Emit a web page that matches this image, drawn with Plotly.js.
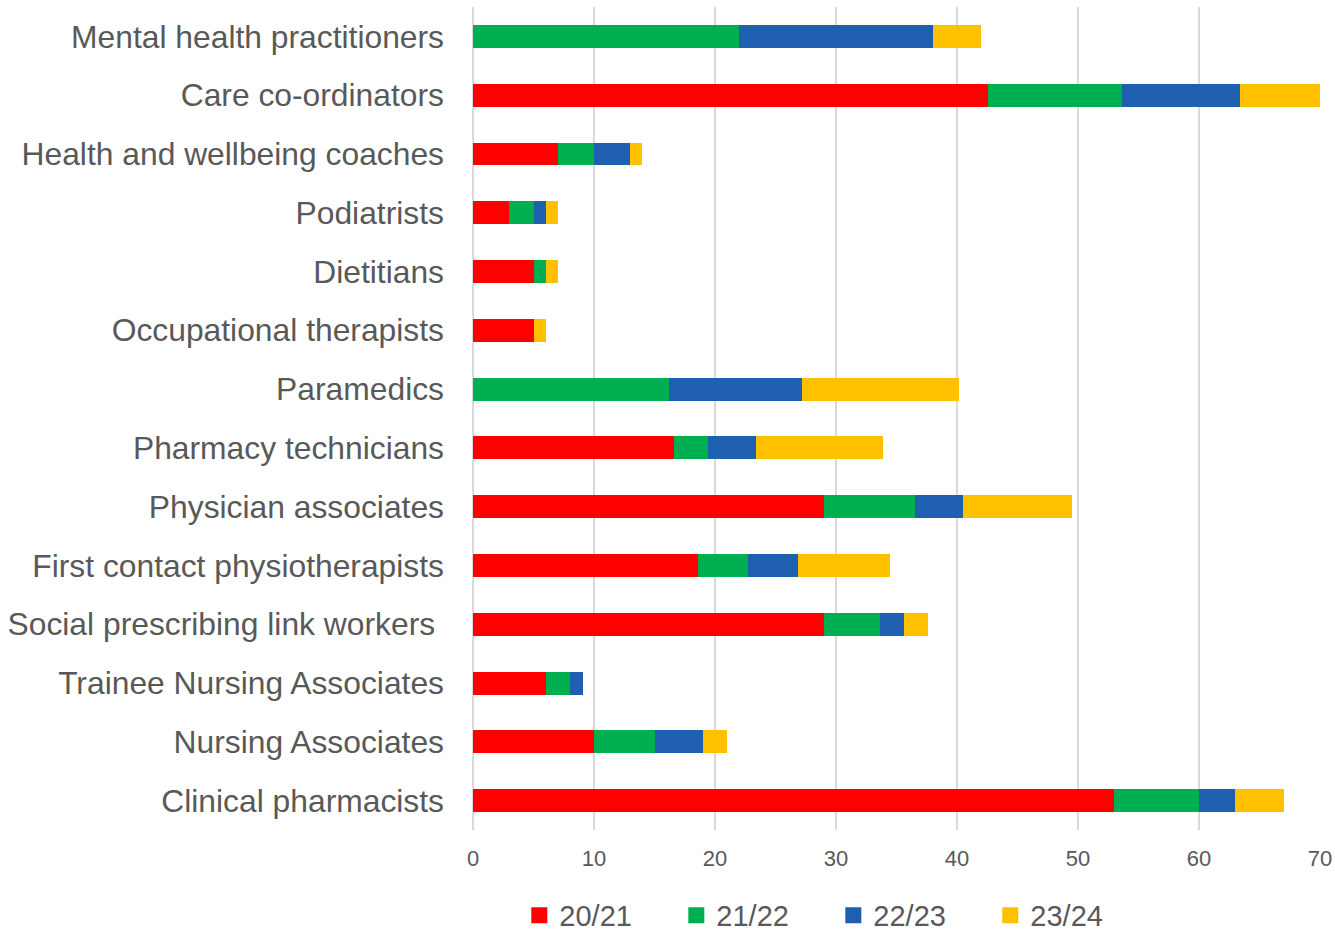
<!DOCTYPE html>
<html>
<head>
<meta charset="utf-8">
<script src="https://cdn.plot.ly/plotly-3.0.1.min.js"></script>
<style>html,body{margin:0;padding:0;background:#fff;}#chart{width:1335px;height:934px;}</style>
</head>
<body>
<div id="chart"></div>
<script>
const categories = [
  "Mental health practitioners",
  "Care co-ordinators",
  "Health and wellbeing coaches",
  "Podiatrists",
  "Dietitians",
  "Occupational therapists",
  "Paramedics",
  "Pharmacy technicians",
  "Physician associates",
  "First contact physiotherapists",
  "Social prescribing link workers\u00A0",
  "Trainee Nursing Associates",
  "Nursing Associates",
  "Clinical pharmacists"
];
const seriesNames = ["20/21", "21/22", "22/23", "23/24"];
const y2021 = [0, 42.6, 7, 3, 5, 5, 0, 16.6, 29.0, 18.6, 29.0, 6, 10, 53];
const y2122 = [22, 11.0, 3, 2, 1, 0, 16.2, 2.8, 7.5, 4.1, 4.6, 2, 5, 7];
const y2223 = [16, 9.8, 3, 1, 0, 0, 11.0, 4.0, 4.0, 4.2, 2.0, 1.1, 4, 3];
const y2324 = [4, 6.6, 1, 1, 1, 1, 13.0, 10.5, 9.0, 7.6, 2.0, 0, 2, 4];
const seriesValues = [y2021, y2122, y2223, y2324];
const colors = ["#FF0000", "#00B050", "#1F5FAF", "#FFC000"];

const barTraces = seriesNames.map((name, i) => ({
  type: "bar",
  orientation: "h",
  name: name,
  legendgroup: name,
  showlegend: false,
  y: categories,
  x: seriesValues[i],
  marker: {color: colors[i], line: {width: 0}},
  width: 0.39
}));

// legend proxies (square swatches like the original)
const legendTraces = seriesNames.map((name, i) => ({
  type: "scatter",
  mode: "markers",
  name: name,
  legendgroup: name,
  showlegend: true,
  x: [null],
  y: [null],
  marker: {color: colors[i], symbol: "square", size: 16},
  hoverinfo: "skip"
}));

const layout = {
  width: 1335,
  height: 934,
  barmode: "stack",
  paper_bgcolor: "#ffffff",
  plot_bgcolor: "#ffffff",
  margin: {l: 473, r: 15, t: 7, b: 104, autoexpand: false},
  font: {family: "Liberation Sans, Arial, sans-serif", color: "#595959"},
  xaxis: {
    range: [0, 70],
    dtick: 10,
    showgrid: true,
    gridcolor: "#D9D9D9",
    gridwidth: 1.5,
    zeroline: true,
    zerolinecolor: "#D9D9D9",
    zerolinewidth: 1.5,
    showline: false,
    ticks: "",
    ticklabelstandoff: 13,
    tickfont: {size: 22, color: "#595959"},
    fixedrange: true
  },
  yaxis: {
    type: "category",
    autorange: "reversed",
    showgrid: false,
    zeroline: false,
    showline: false,
    ticks: "",
    ticklabelstandoff: 28,
    tickfont: {size: 31.8, color: "#595959"},
    fixedrange: true
  },
  legend: {
    orientation: "h",
    xref: "container",
    yref: "container",
    x: 0.389,
    xanchor: "left",
    y: 0.02,
    yanchor: "middle",
    font: {size: 29, color: "#595959"},
    entrywidth: 112,
    entrywidthmode: "pixels",
    traceorder: "normal",
    itemclick: false
  },
  showlegend: true
};

Plotly.newPlot("chart", barTraces.concat(legendTraces), layout, {displayModeBar: false, staticPlot: true});
</script>
</body>
</html>
